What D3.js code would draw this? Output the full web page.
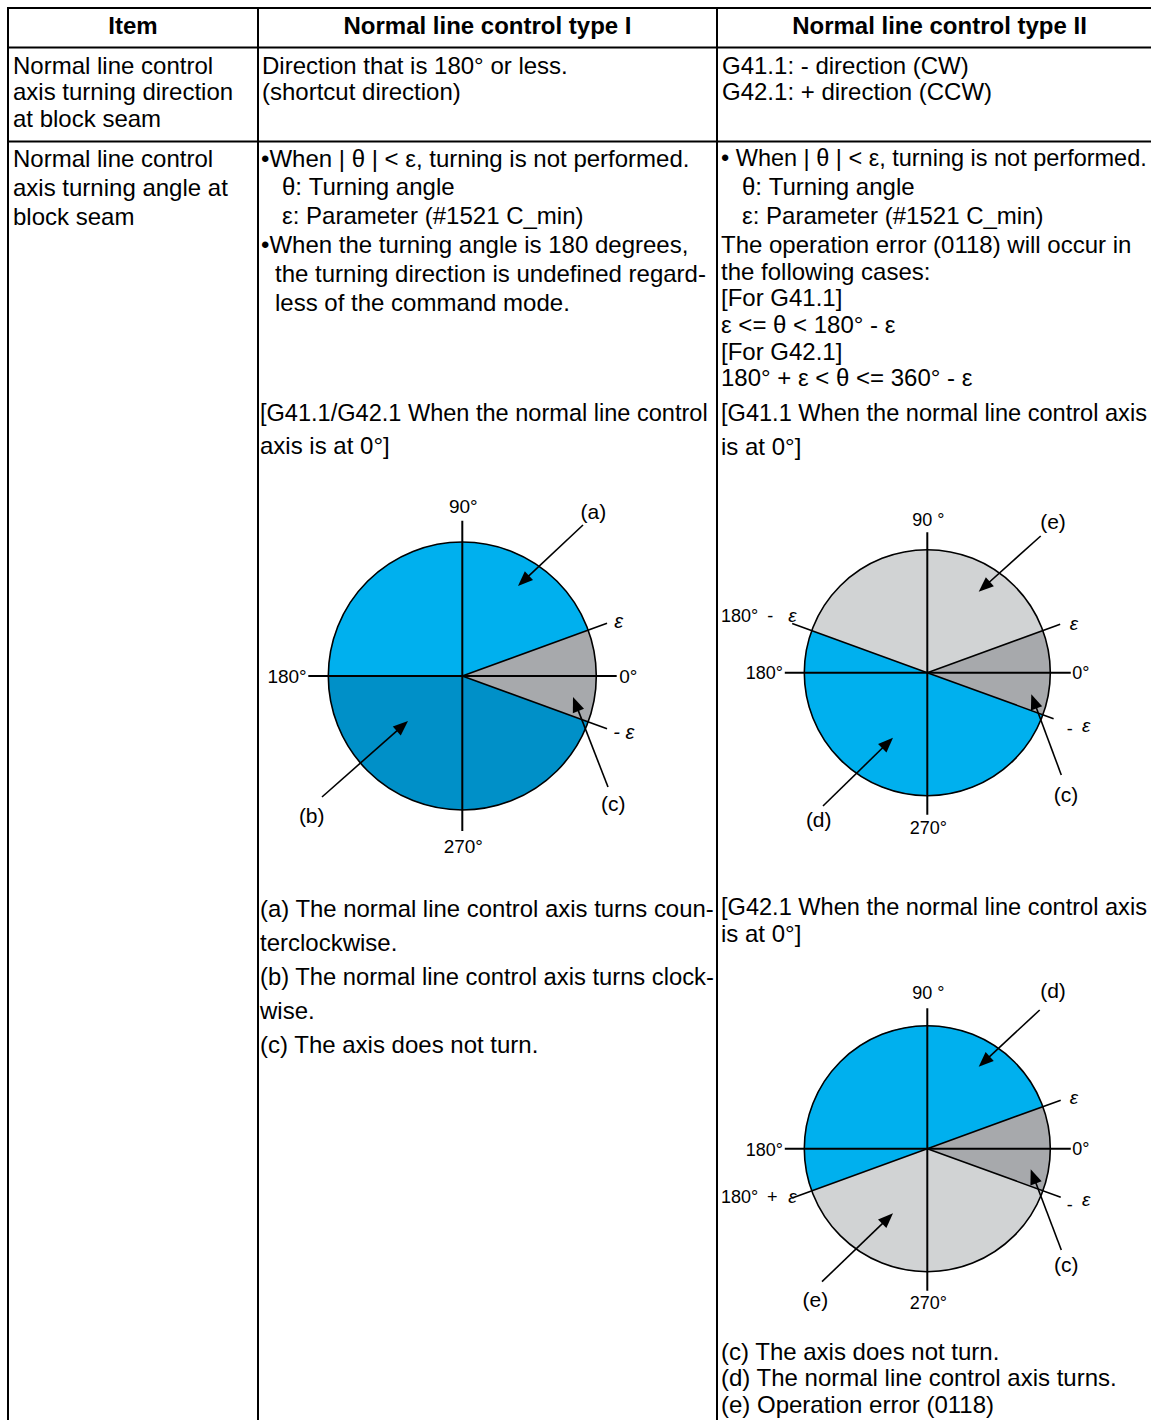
<!DOCTYPE html>
<html>
<head>
<meta charset="utf-8">
<script src="https://cdn.jsdelivr.net/npm/d3@7"></script>
<style>
  html, body { margin: 0; padding: 0; background: #fff; }
  svg { display: block; }
  text { font-family: "Liberation Sans", Arial, sans-serif; fill: #000; white-space: pre; }
</style>
</head>
<body>
<svg id="chart" width="1151" height="1420"></svg>
<script>
// ---------------- DATA ----------------
const headers = ["Item", "Normal line control type I", "Normal line control type II"];

const row1Item = ["Normal line control", "axis turning direction", "at block seam"];
const row1TypeI = ["Direction that is 180\u00b0 or less.", "(shortcut direction)"];
const row1TypeII = ["G41.1: - direction (CW)", "G42.1: + direction (CCW)"];

const row2Item = ["Normal line control", "axis turning angle at", "block seam"];
const row2TypeIIntro = [
  "\u2022When | \u03b8 | < \u03b5, turning is not performed.",
  "\u03b8: Turning angle",
  "\u03b5: Parameter (#1521 C_min)",
  "\u2022When the turning angle is 180 degrees,",
  "the turning direction is undefined regard-",
  "less of the command mode."
];
const row2TypeIIndent = [0, 2, 2, 0, 1, 1];
const row2TypeICaption = ["[G41.1/G42.1 When the normal line control", "axis is at 0\u00b0]"];
const row2TypeINotes = [
  "(a) The normal line control axis turns coun-",
  "terclockwise.",
  "(b) The normal line control axis turns clock-",
  "wise.",
  "(c) The axis does not turn."
];
const row2TypeIIIntro = [
  "\u2022 When | \u03b8 | < \u03b5, turning is not performed.",
  "\u03b8: Turning angle",
  "\u03b5: Parameter (#1521 C_min)",
  "The operation error (0118) will occur in",
  "the following cases:",
  "[For G41.1]",
  "\u03b5 <= \u03b8 < 180\u00b0 - \u03b5",
  "[For G42.1]",
  "180\u00b0 + \u03b5 < \u03b8 <= 360\u00b0 - \u03b5"
];
const row2TypeIIIndent = [0, 2, 2, 0, 0, 0, 0, 0, 0];
const row2TypeIICaption1 = ["[G41.1 When the normal line control axis", "is at 0\u00b0]"];
const row2TypeIICaption2 = ["[G42.1 When the normal line control axis", "is at 0\u00b0]"];
const row2TypeIINotes = [
  "(c) The axis does not turn.",
  "(d) The normal line control axis turns.",
  "(e) Operation error (0118)"
];

// angles in degrees, counter-clockwise from 0° (east)
const epsilon = 20;
const pieTypeI = [
  { from: epsilon, to: 180, kind: "ccw" },
  { from: 180, to: 360 - epsilon, kind: "cw" },
  { from: -epsilon, to: epsilon, kind: "none" }
];
const pieG41 = [
  { from: epsilon, to: 180 - epsilon, kind: "error" },
  { from: 180 - epsilon, to: 360 - epsilon, kind: "turn" },
  { from: -epsilon, to: epsilon, kind: "none" }
];
const pieG42 = [
  { from: epsilon, to: 180 + epsilon, kind: "turn" },
  { from: 180 + epsilon, to: 360 - epsilon, kind: "error" },
  { from: -epsilon, to: epsilon, kind: "none" }
];
const axisLabels = ["0\u00b0", "90\u00b0", "180\u00b0", "270\u00b0"];

// ---------------- STYLE ----------------
const colors = {
  ccw: "#00b0ee",
  cw: "#0090c8",
  none: "#a7a9ac",
  turn: "#00b0ee",
  error: "#d1d3d4"
};
const FONT = 24;

// ---------------- DRAW ----------------
const svg = d3.select("#chart");

// table grid
const colX = [8, 258, 717, 1162];
const rowY = [8, 47.5, 141.5, 1430];
const grid = svg.append("g").attr("stroke", "#000").attr("fill", "none");
grid.append("line").attr("x1", colX[0] - 1).attr("x2", 1151).attr("y1", rowY[0]).attr("y2", rowY[0]).attr("stroke-width", 2.2);
[rowY[1], rowY[2]].forEach(y => grid.append("line").attr("x1", colX[0]).attr("x2", 1151).attr("y1", y).attr("y2", y).attr("stroke-width", 1.8));
[colX[0], colX[1], colX[2]].forEach(x => grid.append("line").attr("x1", x).attr("x2", x).attr("y1", rowY[0]).attr("y2", 1420).attr("stroke-width", 2));

// headers
headers.forEach((h, i) => {
  svg.append("text").attr("x", (colX[i] + colX[i + 1]) / 2).attr("y", 33.6)
    .attr("text-anchor", "middle").attr("font-weight", "bold").attr("font-size", 24).text(h);
});

function block(lines, x, y0, dy, indents, indentPx, maxRight) {
  const g = svg.append("g");
  lines.forEach((t, i) => {
    const ind = indents ? indentPx[indents[i]] : 0;
    const el = g.append("text").attr("x", x + ind).attr("y", y0 + i * dy).attr("font-size", FONT).text(t);
    if (maxRight) {
      const w = el.node().getComputedTextLength();
      if (x + ind + w > maxRight) {
        el.attr("font-size", FONT * (maxRight - x - ind) / w);
      }
    }
  });
}

block(row1Item, 13, 73.5, 26.5);
block(row1TypeI, 262, 73.5, 26.5);
block(row1TypeII, 722, 73.5, 26.5);

block(row2Item, 13, 166.5, 29);
block(row2TypeIIntro, 261, 166.5, 28.9, row2TypeIIndent, [0, 14, 21], 707);
block(row2TypeICaption, 260, 420.5, 33.5, null, null, 708);
block(row2TypeINotes, 260, 916.5, 34.2, null, null, 714);

block(row2TypeIIIntro.slice(0, 4), 721, 165.5, 29, row2TypeIIIndent.slice(0, 4), [0, 0, 21], 1147);
block(row2TypeIIIntro.slice(4), 721, 279.5, 26.7);
block(row2TypeIICaption1, 721, 421, 34, null, null, 1147);
block(row2TypeIICaption2, 721, 915, 27, null, null, 1147);
block(row2TypeIINotes, 721, 1359.5, 26.8);

// ---------- pies ----------
const toRad = d3.scaleLinear().domain([0, 360]).range([Math.PI / 2, Math.PI / 2 - 2 * Math.PI]);
function pt(deg, len) {
  const a = deg * Math.PI / 180;
  return [len * Math.cos(a), -len * Math.sin(a)];
}
function arrow(g, s, e) {
  const dx = e[0] - s[0], dy = e[1] - s[1];
  const L = Math.hypot(dx, dy), ux = dx / L, uy = dy / L;
  const hl = 15, hw = 6;
  const bx = e[0] - ux * hl, by = e[1] - uy * hl;
  g.append("line").attr("x1", s[0]).attr("y1", s[1]).attr("x2", bx + ux * 2).attr("y2", by + uy * 2)
    .attr("stroke", "#000").attr("stroke-width", 1.6);
  g.append("path").attr("d", d3.line()([e, [bx - uy * hw, by + ux * hw], [bx + uy * hw, by - ux * hw]]) + "Z")
    .attr("fill", "#000");
}

function drawPie(cfg) {
  const g = svg.append("g").attr("transform", `translate(${cfg.cx},${cfg.cy})`);
  const arc = d3.arc().innerRadius(0).outerRadius(cfg.r);
  g.selectAll("path.sector").data(cfg.sectors).join("path").attr("class", "sector")
    .attr("d", d => arc({ startAngle: toRad(d.from), endAngle: toRad(d.to) }))
    .attr("fill", d => colors[d.kind]);
  g.append("circle").attr("r", cfg.r).attr("fill", "none").attr("stroke", "#000").attr("stroke-width", 1.6);
  g.append("line").attr("x1", 0).attr("x2", 0).attr("y1", -cfg.axV[0]).attr("y2", cfg.axV[1]).attr("stroke", "#000").attr("stroke-width", 2);
  g.append("line").attr("x1", -cfg.axH[0]).attr("x2", cfg.axH[1]).attr("y1", 0).attr("y2", 0).attr("stroke", "#000").attr("stroke-width", 2);
  cfg.rays.forEach(r => {
    const p = pt(r.deg, r.len);
    g.append("line").attr("x1", 0).attr("y1", 0).attr("x2", p[0]).attr("y2", p[1]).attr("stroke", "#000").attr("stroke-width", 1.6);
  });
  cfg.arrows.forEach(a => arrow(g, a.s, a.e));
  cfg.labels.forEach(l => {
    g.append("text").attr("x", l.x).attr("y", l.y).attr("text-anchor", l.anchor || "middle")
      .attr("dominant-baseline", "central").attr("font-size", l.size || cfg.labelSize)
      .attr("font-style", l.italic ? "italic" : null).text(l.t);
  });
}

drawPie({
  cx: 462.3, cy: 676, r: 134, sectors: pieTypeI, labelSize: 19,
  axV: [155.3, 155], axH: [154, 154.4],
  rays: [{ deg: epsilon, len: 154 }, { deg: -epsilon, len: 154 }],
  arrows: [
    { s: [120.7, -151], e: [55.7, -90] },
    { s: [-140.3, 121], e: [-54.3, 45] },
    { s: [145.7, 111], e: [110.7, 21] }
  ],
  labels: [
    { t: axisLabels[1], x: 1, y: -169.5 },
    { t: axisLabels[3], x: 1, y: 170.7 },
    { t: axisLabels[2], x: -155.6, y: 0, anchor: "end" },
    { t: axisLabels[0], x: 157, y: 0, anchor: "start" },
    { t: "\u03b5", x: 152, y: -55, anchor: "start", italic: true, size: 20 },
    { t: "- \u03b5", x: 151, y: 56, anchor: "start", italic: true, size: 20 },
    { t: "(a)", x: 131, y: -164.5, size: 21 },
    { t: "(b)", x: -150.6, y: 139, size: 21 },
    { t: "(c)", x: 151, y: 127.3, size: 21 }
  ]
});

const type2Common = {
  r: 123, labelSize: 18, axV: [140.5, 142], axH: [142.5, 143.5],
};
drawPie(Object.assign({}, type2Common, {
  cx: 927.3, cy: 672.7, sectors: pieG41,
  rays: [{ deg: epsilon, len: 141.4 }, { deg: -epsilon, len: 134.4 }, { deg: 180 - epsilon, len: 143.8 }],
  arrows: [
    { s: [113.4, -136.7], e: [51.4, -81] },
    { s: [134, 102.3], e: [104, 21.6] },
    { s: [-104.3, 133.3], e: [-34.3, 65] }
  ],
  labels: [
    { t: "90 \u00b0", x: 1, y: -152.7 },
    { t: "270\u00b0", x: 1, y: 155.6 },
    { t: "180\u00b0", x: -144.3, y: 0.6, anchor: "end" },
    { t: "0\u00b0", x: 145, y: 0, anchor: "start" },
    { t: "180\u00b0", x: -206.3, y: -57, anchor: "start" },
    { t: "-", x: -157, y: -57 },
    { t: "\u03b5", x: -135, y: -57, italic: true, size: 19 },
    { t: "\u03b5", x: 142.5, y: -49, anchor: "start", italic: true, size: 19 },
    { t: "-", x: 142.4, y: 56 },
    { t: "\u03b5", x: 159, y: 53, italic: true, size: 19 },
    { t: "(e)", x: 125.7, y: -151, size: 21 },
    { t: "(c)", x: 138.7, y: 122.3, size: 21 },
    { t: "(d)", x: -108.6, y: 147.3, size: 21 }
  ]
}));

drawPie(Object.assign({}, type2Common, {
  cx: 927.3, cy: 1148.7, sectors: pieG42,
  rays: [{ deg: epsilon, len: 142 }, { deg: -epsilon, len: 142 }, { deg: 180 + epsilon, len: 143.8 }],
  arrows: [
    { s: [112.4, -138.7], e: [51.4, -82] },
    { s: [134, 101.3], e: [103.4, 20.6] },
    { s: [-105.3, 133], e: [-34.3, 64.6] }
  ],
  labels: [
    { t: "90 \u00b0", x: 1, y: -155.4 },
    { t: "270\u00b0", x: 1, y: 154.6 },
    { t: "180\u00b0", x: -144.3, y: 1.3, anchor: "end" },
    { t: "0\u00b0", x: 145, y: 0.3, anchor: "start" },
    { t: "180\u00b0", x: -206.3, y: 48, anchor: "start" },
    { t: "+", x: -155, y: 48 },
    { t: "\u03b5", x: -135, y: 48, italic: true, size: 19 },
    { t: "\u03b5", x: 142.5, y: -51.4, anchor: "start", italic: true, size: 19 },
    { t: "-", x: 142.4, y: 56.3 },
    { t: "\u03b5", x: 159, y: 51.3, italic: true, size: 19 },
    { t: "(d)", x: 125.7, y: -158, size: 21 },
    { t: "(c)", x: 139, y: 116.3, size: 21 },
    { t: "(e)", x: -112, y: 151.3, size: 21 }
  ]
}));
</script>
</body>
</html>
